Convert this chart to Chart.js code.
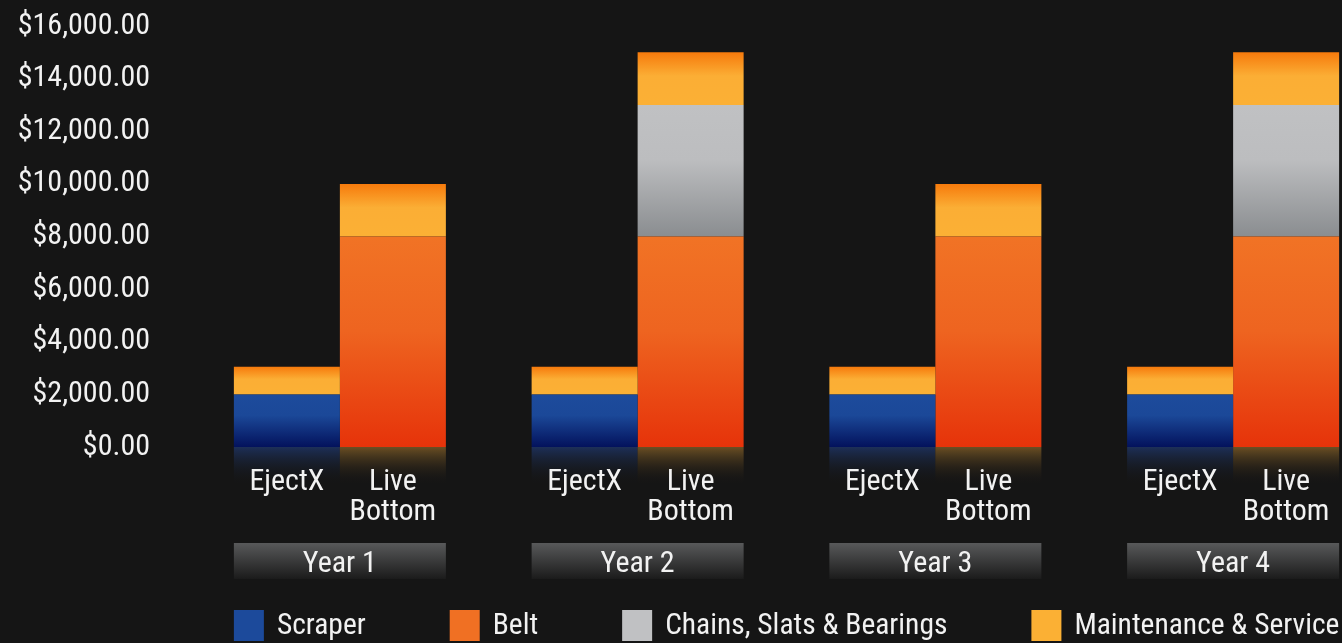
<!DOCTYPE html>
<html><head><meta charset="utf-8">
<script src="https://cdn.jsdelivr.net/npm/chart.js@4.4.0/dist/chart.umd.min.js"></script>
<style>
html,body{margin:0;padding:0;background:#151515;overflow:hidden;width:1342px;height:643px}
#wrap{position:absolute;left:0;top:0;width:1400px;height:643px}
canvas{display:block}
</style></head>
<body><div id="wrap"><canvas id="c" width="1400" height="643" style="width:1400px;height:643px"></canvas></div>
<script>
// ---- data ----
const years = ['Year 1', 'Year 2', 'Year 3', 'Year 4'];
const products = ['EjectX', 'Live Bottom'];
const productLines = [['EjectX'], ['Live', 'Bottom']];
const scraper = [2000, 2000, 2000, 2000];
const maintenanceEjectX = [1050, 1050, 1050, 1050];
const belt = [8000, 8000, 8000, 8000];
const chains = [0, 5000, 0, 5000];
const maintenanceLive = [2000, 2000, 2000, 2000];
const yMin = 0, yMax = 16000, yStep = 2000;
const legendLabels = ['Scraper', 'Belt', 'Chains, Slats & Bearings', 'Maintenance & Service'];

// ---- style ----
const FONT = "'Roboto Condensed', 'Liberation Sans Narrow', 'DejaVu Sans Condensed', Roboto, sans-serif";
const TEXT = '#f2f2f2';
const styles = {
  'Scraper': {solid: '#1c4a9b', grad: [[0, '#1d4b9c'], [0.4, '#1b4898'], [1, '#03125c']], reflect: 'rgba(30,52,100,0.85)'},
  'Belt': {solid: '#f07023', grad: [[0, '#f17325'], [0.45, '#ee6420'], [1, '#e6330a']], reflect: 'rgba(112,82,36,0.95)'},
  'Chains, Slats & Bearings': {solid: '#c0c1c3', grad: [[0, '#c0c1c3'], [0.42, '#bcbdbf'], [1, '#8a8d90']]},
  'Maintenance & Service': {solid: '#fbb034', grad: [[0, '#f67a0c'], [0.45, '#fbae35'], [1, '#fbb035']]}
};

function ds(label, data, stack) {
  return {label, data, stack, backgroundColor: styles[label].solid, borderWidth: 0};
}

const decor = {
  id: 'decor',
  beforeDraw(chart) {
    const c = chart.ctx;
    c.save();
    c.fillStyle = '#151515';
    c.fillRect(0, 0, chart.width, chart.height);
    c.restore();
  },
  beforeDatasetsDraw(chart) {
    const c = chart.ctx;
    chart.data.datasets.forEach((d, di) => {
      const meta = chart.getDatasetMeta(di);
      const st = styles[d.label];
      meta.data.forEach((el) => {
        const p = el.getProps(['x', 'y', 'base', 'width'], true);
        const top = Math.min(p.y, p.base), bot = Math.max(p.y, p.base);
        if (bot - top < 0.5) return;
        const g = c.createLinearGradient(0, top, 0, bot);
        st.grad.forEach(s => g.addColorStop(s[0], s[1]));
        el.options = Object.assign({}, el.options, {backgroundColor: g});
        if (st.reflect && Math.abs(p.base - chart.scales.y.getPixelForValue(0)) < 1) {
          const r = c.createLinearGradient(0, bot, 0, bot + 38);
          r.addColorStop(0, st.reflect);
          r.addColorStop(1, 'rgba(21,21,21,0)');
          c.save();
          c.fillStyle = r;
          c.fillRect(p.x - p.width / 2, bot, p.width, 38);
          c.restore();
        }
      });
    });
  },
  afterDraw(chart) {
    const c = chart.ctx;
    c.save();
    c.textAlign = 'center';
    c.textBaseline = 'middle';
    const metaE = chart.getDatasetMeta(0);
    const metaL = chart.getDatasetMeta(2);
    const base = chart.scales.y.getPixelForValue(0);
    years.forEach((yr, i) => {
      const e = metaE.data[i].getProps(['x', 'width'], true);
      const l = metaL.data[i].getProps(['x', 'width'], true);
      c.fillStyle = TEXT;
      c.font = '30px ' + FONT;
      [e, l].forEach((b, k) => {
        productLines[k].forEach((ln, j) => c.fillText(ln, b.x, base + 35 + j * 30));
      });
      const left = e.x - e.width / 2, right = l.x + l.width / 2;
      const by = base + 96, bh = 36;
      const g = c.createLinearGradient(0, by, 0, by + bh);
      g.addColorStop(0, '#58595a');
      g.addColorStop(1, '#1b1b1b');
      c.fillStyle = g;
      c.fillRect(left, by, right - left, bh);
      c.fillStyle = TEXT;
      c.font = '30px ' + FONT;
      c.fillText(yr, (left + right) / 2, by + bh / 2 + 3);
    });
    const e0 = metaE.data[0].getProps(['x', 'width'], true);
    let x = e0.x - e0.width / 2;
    const ly = 610, box = 30;
    c.textAlign = 'left';
    c.font = '29.5px ' + FONT;
    legendLabels.forEach(lbl => {
      c.fillStyle = styles[lbl].solid;
      c.fillRect(x, ly, box, box + 1);
      c.fillStyle = TEXT;
      c.fillText(lbl, x + box + 13, ly + box / 2 + 2);
      x += box + 13 + c.measureText(lbl).width + 84;
    });
    c.restore();
  }
};

new Chart(document.getElementById('c'), {
  type: 'bar',
  data: {
    labels: years,
    datasets: [
      ds('Scraper', scraper, products[0]),
      ds('Maintenance & Service', maintenanceEjectX, products[0]),
      ds('Belt', belt, products[1]),
      ds('Chains, Slats & Bearings', chains, products[1]),
      ds('Maintenance & Service', maintenanceLive, products[1])
    ]
  },
  options: {
    responsive: false,
    devicePixelRatio: 1,
    animation: false,
    categoryPercentage: 0.712,
    barPercentage: 1.0,
    layout: {padding: {top: 26, right: 18, bottom: 196, left: 0}},
    plugins: {legend: {display: false}, tooltip: {enabled: false}},
    scales: {
      x: {display: false, stacked: true},
      y: {
        stacked: true,
        min: yMin, max: yMax,
        grid: {display: false, drawTicks: false},
        border: {display: false},
        afterFit(scale) { scale.width = 191; scale.paddingTop = 18; scale.paddingBottom = 18; },
        ticks: {
          stepSize: yStep,
          padding: 41,
          color: TEXT,
          font: {family: FONT, size: 30},
          callback: v => '$' + Number(v).toLocaleString('en-US', {minimumFractionDigits: 2, maximumFractionDigits: 2})
        }
      }
    }
  },
  plugins: [decor]
});
</script>
</body></html>
